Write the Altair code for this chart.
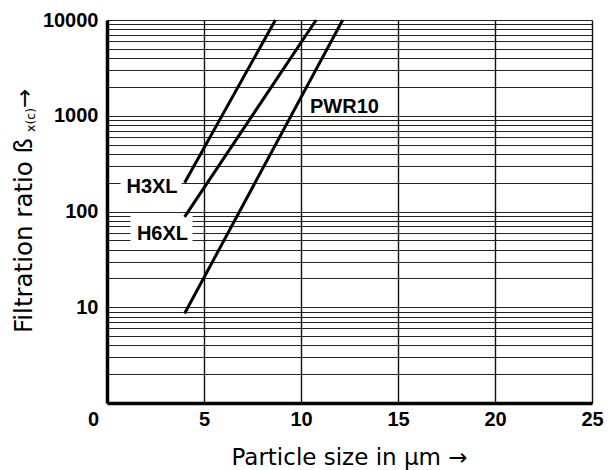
import altair as alt
import pandas as pd

# ---- data ----
series = ["H3XL", "H6XL", "PWR10"]
x_start = [4.0, 4.0, 4.0]
y_start = [200, 88, 8.6]
x_end = [8.68, 10.78, 12.15]
y_end = [10000, 10000, 10000]

label_text = ["H3XL", "H6XL", "PWR10"]
label_x = [2.32, 2.86, 12.24]
label_y = [156, 50.4, 1069]

# white backgrounds behind the H3XL / H6XL labels
box_x1 = [0.70, 1.21]
box_x2 = [3.84, 4.41]
box_y1 = [149, 45.8]
box_y2 = [246, 96.5]

x_ticks = [0, 5, 10, 15, 20, 25]
y_grid = [1, 2, 3, 4, 5, 6, 7, 8, 9,
          10, 20, 30, 40, 50, 60, 70, 80, 90,
          100, 200, 300, 400, 500, 600, 700, 800, 900,
          1000, 2000, 3000, 4000, 5000, 6000, 7000, 8000, 9000,
          10000]
y_labels = [10, 100, 1000, 10000]

x_title = "Particle size in µm →"
y_title_main = "Filtration ratio ß"
y_title_sub = "x(c)"
y_title_arrow = "→"

# ---- tables ----
rows = []
for s, xs, ys, xe, ye in zip(series, x_start, y_start, x_end, y_end):
    rows.append({"series": s, "x": xs, "y": ys, "o": 0})
    rows.append({"series": s, "x": xe, "y": ye, "o": 1})
lines_df = pd.DataFrame(rows)
labels_df = pd.DataFrame({"t": label_text, "x": label_x, "y": label_y})
boxes_df = pd.DataFrame({"x": box_x1, "x2": box_x2, "y": box_y1, "y2": box_y2})

W, H = 485, 383
BOLDF = "Liberation Sans"
TITLEF = "DejaVu Sans"

xscale = alt.Scale(domain=[0, 25], nice=False, zero=False)
yscale = alt.Scale(type="log", domain=[1, 10000], nice=False)

xaxis = alt.Axis(
    values=x_ticks, format="d", grid=True, gridColor="#111111", gridWidth=1.4,
    ticks=False, domainColor="black", domainWidth=3.5,
    labelFont=BOLDF, labelFontWeight="bold", labelFontSize=20, labelColor="black",
    labelPadding=6, labelFlush=False,
    labelOffset={"condition": {"test": "datum.value == 0", "value": -14}, "value": 0},
    title=None,
)
yaxis = alt.Axis(
    values=y_grid, grid=True, gridColor="#222222", gridWidth=1,
    ticks=False, domainColor="black", domainWidth=3.5,
    labelExpr="indexof([10,100,1000,10000], datum.value) >= 0 ? format(datum.value, 'd') : ''",
    labelFont=BOLDF, labelFontWeight="bold", labelFontSize=20, labelColor="black",
    labelPadding=9, labelFlush=False, labelOverlap=False,
    title=None,
)

lines = alt.Chart(lines_df).mark_line(color="black", strokeWidth=3, strokeCap="butt").encode(
    x=alt.X("x:Q", scale=xscale, axis=xaxis),
    y=alt.Y("y:Q", scale=yscale, axis=yaxis),
    detail="series:N",
    order="o:Q",
)

boxes = alt.Chart(boxes_df).mark_rect(color="white").encode(
    x=alt.X("x:Q", scale=xscale), x2="x2:Q",
    y=alt.Y("y:Q", scale=yscale), y2="y2:Q",
)

labels = alt.Chart(labels_df).mark_text(
    font=BOLDF, fontWeight="bold", fontSize=20, color="black",
    align="center", baseline="alphabetic",
).encode(
    x=alt.X("x:Q", scale=xscale), y=alt.Y("y:Q", scale=yscale), text="t:N"
)

one = pd.DataFrame({"k": [0]})
xt = alt.Chart(one).mark_text(
    text=x_title, font=TITLEF, fontSize=23, align="center",
    baseline="alphabetic", color="black",
).encode(x=alt.value(242.5), y=alt.value(445))
yt_main = alt.Chart(one).mark_text(
    text=y_title_main, font=TITLEF, fontSize=24.5, angle=270, align="left",
    baseline="alphabetic", color="black",
).encode(x=alt.value(-75), y=alt.value(313))
yt_sub = alt.Chart(one).mark_text(
    text=y_title_sub, font=TITLEF, fontSize=12.5, angle=270, align="left",
    baseline="alphabetic", color="black",
).encode(x=alt.value(-72), y=alt.value(112))
yt_arrow = alt.Chart(one).mark_text(
    text=y_title_arrow, font=TITLEF, fontSize=23, angle=270, align="left",
    baseline="alphabetic", color="black",
).encode(x=alt.value(-75), y=alt.value(88))

chart = alt.layer(boxes, lines, labels, xt, yt_main, yt_sub, yt_arrow).properties(
    width=W, height=H,
    autosize=alt.AutoSizeParams(type="none"),
    padding={"left": 99, "top": 12, "right": 12, "bottom": 67},
).configure_view(stroke="black", strokeWidth=2).configure(background="white")

chart.save("out.html", embed_options={"renderer": "svg", "actions": False})
